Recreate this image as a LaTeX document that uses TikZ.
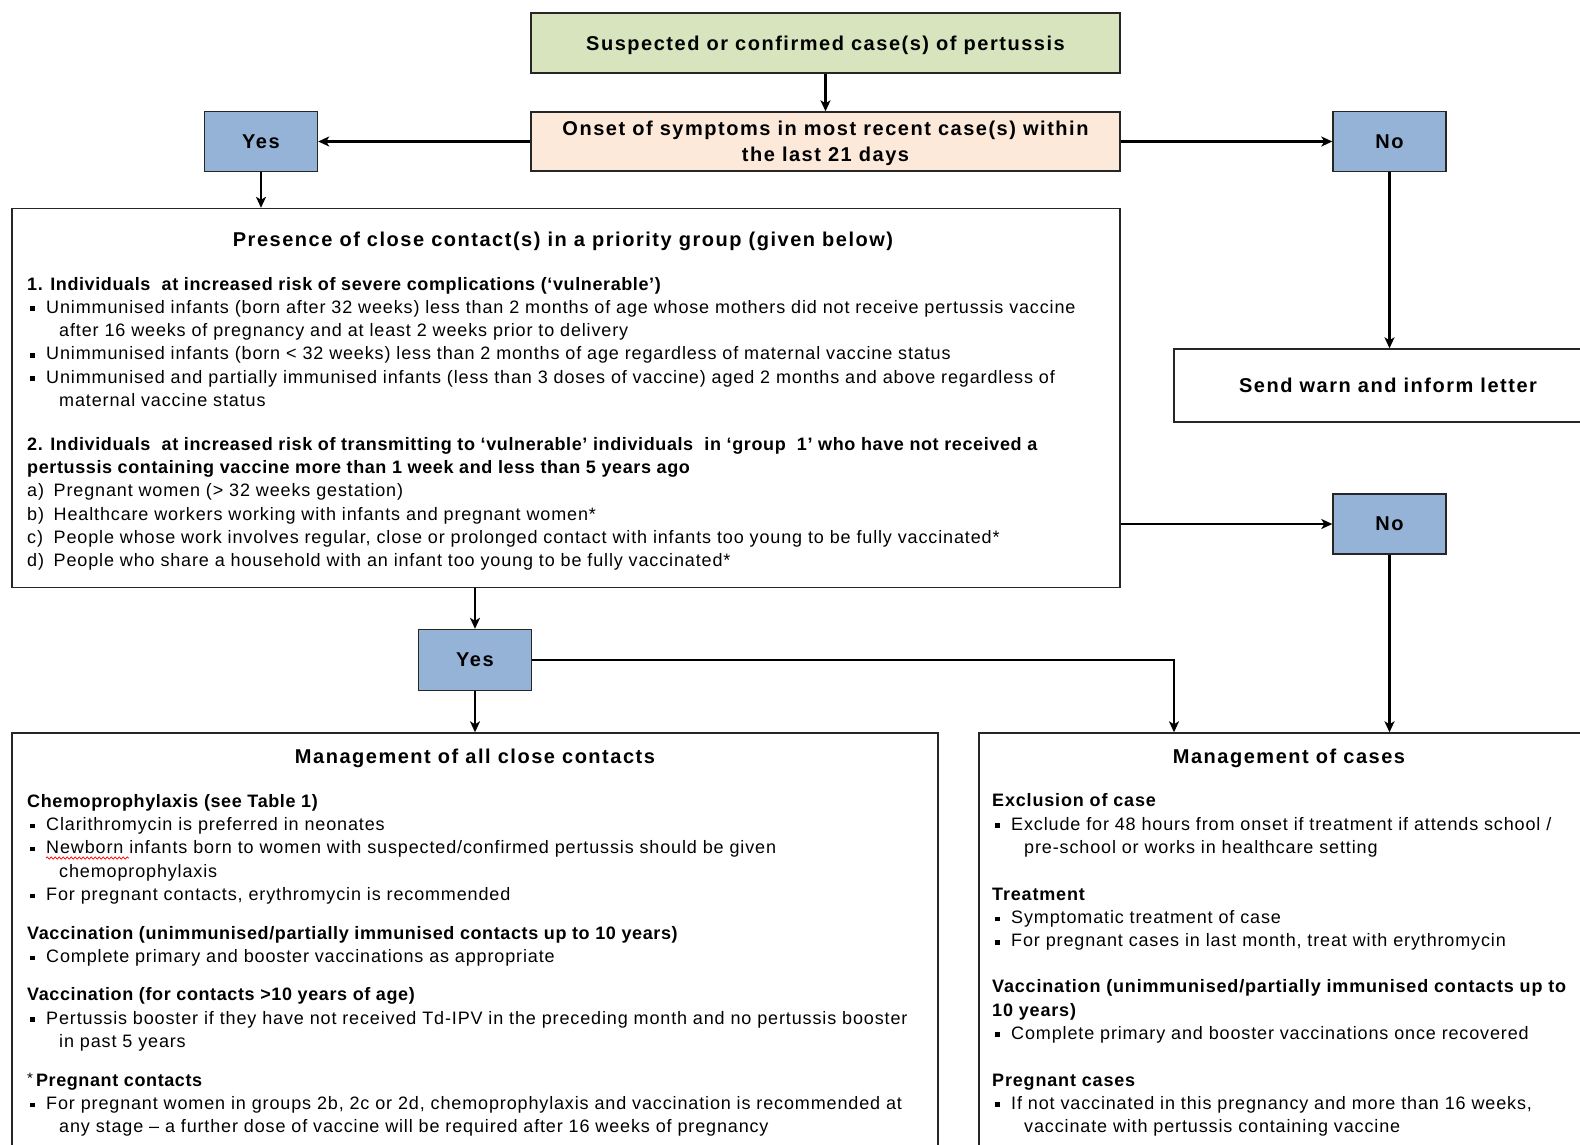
\documentclass[tikz,border=0pt]{standalone}
\usepackage{fontspec}
\setmainfont{Liberation Sans}
\newfontfamily\ttlfont{Liberation Sans}[LetterSpace=7.6]
\newfontfamily\hdfont{Liberation Sans}[LetterSpace=3.4]
\newfontfamily\hdrfont{Liberation Sans}[LetterSpace=4.6]
\newfontfamily\bodyfont{Liberation Sans}[LetterSpace=4.8]
\usetikzlibrary{arrows.meta,decorations.pathmorphing}
\definecolor{boxgreen}{HTML}{D7E4BD}
\definecolor{boxpeach}{HTML}{FDE9D9}
\definecolor{boxblue}{HTML}{95B3D7}
\definecolor{edgecol}{HTML}{262626}
\newcommand\ttlf{\ttlfont\bfseries\fontsize{20}{26}\selectfont}
\newcommand\hdf{\hdfont\bfseries\fontsize{18}{23.3}\selectfont}
\newcommand\hdrf{\hdrfont\bfseries\fontsize{18}{23.3}\selectfont}
\newcommand\bdf{\bodyfont\fontsize{18}{23.3}\selectfont}
\newcommand\bsq{\raisebox{2.4pt}{\rule{4.5pt}{4.5pt}}}
\newcommand\bl[1]{\hspace*{3pt}\makebox[16pt][l]{\bsq}#1}
\newcommand\cn[1]{\hspace*{32pt}#1}
\newcommand\al[2]{\makebox[26.5pt][l]{#1}#2}
\tikzset{
  box/.style={draw=edgecol, line width=1.4pt, inner sep=0pt, rectangle},
  yn/.style={box, fill=boxblue, minimum width=113pt, minimum height=60pt, font=\ttlf},
  arr/.style={line width=2.3pt, draw=black, -{Stealth[length=11pt,width=10pt,inset=3pt]}},
  blk/.style={anchor=north west, inner sep=0pt, align=left, font=\bdf},
  ttl/.style={anchor=base, inner sep=0pt, font=\ttlf}
}
\begin{document}
\begin{tikzpicture}[x=1pt,y=-1pt]
\path[use as bounding box, fill=white] (0,0) rectangle (1580,1144);
\begin{scope}
\clip (0,0) rectangle (1580,1144);
% boxes
\node[box, fill=boxgreen, minimum width=589pt, minimum height=60pt, font=\ttlf, text height=14.5pt, text depth=0.5pt] (top) at (825.5,43) {Suspected or confirmed case(s) of pertussis};
\node[box, fill=boxpeach, minimum width=589pt, minimum height=59pt, font=\ttlf, align=center, text depth=0pt] (onset) at (825.5,141.5) {Onset of symptoms in most recent case(s) within\\the last 21 days};
\node[yn] (yes1) at (261,141.5) {Yes};
\node[yn] (no1) at (1389.5,141.5) {No};
\node[box, minimum width=1108pt, minimum height=379pt] (prio) at (566,398) {};
\node[box, minimum width=428pt, minimum height=73pt, font=\ttlf] (warn) at (1388,385.5) {Send warn and inform letter};
\node[yn] (no2) at (1389.5,524) {No};
\node[yn, minimum height=61pt] (yes2) at (475,660) {Yes};
\node[box, minimum width=926pt, minimum height=430pt] (contacts) at (475,948) {};
\node[box, minimum width=630pt, minimum height=430pt] (cases) at (1294,948) {};
% connectors
\draw[arr] (top) -- (onset);
\draw[arr] (onset) -- (yes1);
\draw[arr] (onset) -- (no1);
\draw[arr] (yes1) -- (yes1 |- prio.north);
\draw[arr] (no1) -- (no1 |- warn.north);
\draw[arr] (prio.east |- no2) -- (no2);
\draw[arr] (yes2 |- prio.south) -- (yes2);
\draw[arr] (yes2) -- (yes2 |- contacts.north);
\coordinate (split) at (1174,660);
\draw[arr] (yes2) -- (split) -- (split |- cases.north);
\draw[arr] (no2) -- (no2 |- cases.north);
% priority box text
\node[ttl] (prioT) at (563,246) {Presence of close contact(s) in a priority group (given below)};
\node[blk] (s1) at (27,273.5) {{\hdf\strut 1. Individuals\ \ at increased risk of severe complications (‘vulnerable’)}\\
\bl{Unimmunised infants (born after 32 weeks) less than 2 months of age whose mothers did not receive pertussis vaccine}\\
\cn{after 16 weeks of pregnancy and at least 2 weeks prior to delivery}\\
\bl{Unimmunised infants (born < 32 weeks) less than 2 months of age regardless of maternal vaccine status}\\
\bl{Unimmunised and partially immunised infants (less than 3 doses of vaccine) aged 2 months and above regardless of}\\
\cn{maternal vaccine status}};
\node[blk] (s2) at (27,433.7) {{\hdf\strut 2. Individuals\ \ at increased risk of transmitting to ‘vulnerable’ individuals\ \ in ‘group\ \ 1’ who have not received a}\\
{\hdf pertussis containing\ vaccine more than 1 week and less than 5 years ago}\\
\al{a)}{Pregnant women (> 32 weeks gestation)}\\
\al{b)}{Healthcare workers working with infants and pregnant women*}\\
\al{c)}{People whose work involves regular, close or prolonged contact with infants too young to be fully vaccinated*}\\
\al{d)}{People who share a household with an infant too young to\ be fully vaccinated*}};
% contacts box text
\node[ttl] (contT) at (475,763) {Management of all close contacts};
\node[blk] (e1) at (27,790.7) {{\hdf\strut Chemoprophylaxis\ (see Table 1)}\\
\bl{Clarithromycin is preferred in neonates}\\
\bl{Newborn infants born to women with suspected/confirmed pertussis should be given}\\
\cn{chemoprophylaxis}\\
\bl{For pregnant contacts, erythromycin is recommended}};
\node[blk] (e2) at (27,922.9) {{\hdf\strut Vaccination (unimmunised/partially\ immunised contacts up to 10 years)}\\
\bl{Complete primary and booster vaccinations as appropriate}};
\node[blk] (e3) at (27,984.3) {{\hdf\strut Vaccination (for contacts >10 years of age)}\\
\bl{Pertussis booster if they\ have not received Td-IPV\ in the preceding month and no pertussis booster}\\
\cn{in past 5 years}};
\node[blk] (e4) at (27,1069.7) {{\hdf\strut {\mdseries\raisebox{3pt}{\fontsize{15}{15}\selectfont *}}\,Pregnant contacts}\\
\bl{For pregnant women in groups 2b, 2c or 2d, chemoprophylaxis and vaccination is recommended at}\\
\cn{any stage – a further dose of vaccine will be required after 16 weeks of pregnancy}};
\draw[red, line width=0.7pt, decorate, decoration={snake, amplitude=1.1pt, segment length=4pt}] (46,858) -- (129,858);
% cases box text
\node[ttl] (caseT) at (1289,763.5) {Management of cases};
\node[blk] (f1) at (992,790.2) {{\hdrf\strut Exclusion\ of case}\\
\bl{Exclude for 48 hours from onset if treatment if\ attends school /}\\
\cn{pre-school or works in healthcare setting}};
\node[blk] (f2) at (992,883.8) {{\hdrf\strut Treatment}\\
\bl{Symptomatic treatment of case}\\
\bl{For pregnant cases in last month, treat with erythromycin}};
\node[blk] (f3) at (992,976.2) {{\hdrf\strut Vaccination (unimmunised/partially\ immunised contacts up to}\\
{\hdrf 10 years)}\\
\bl{Complete primary and booster vaccinations once recovered}};
\node[blk] (f4) at (992,1069.5) {{\hdrf\strut Pregnant cases}\\
\bl{If\ not vaccinated in this pregnancy and more than 16 weeks,}\\
\cn{vaccinate with pertussis containing vaccine}};
\end{scope}
\end{tikzpicture}
\end{document}
